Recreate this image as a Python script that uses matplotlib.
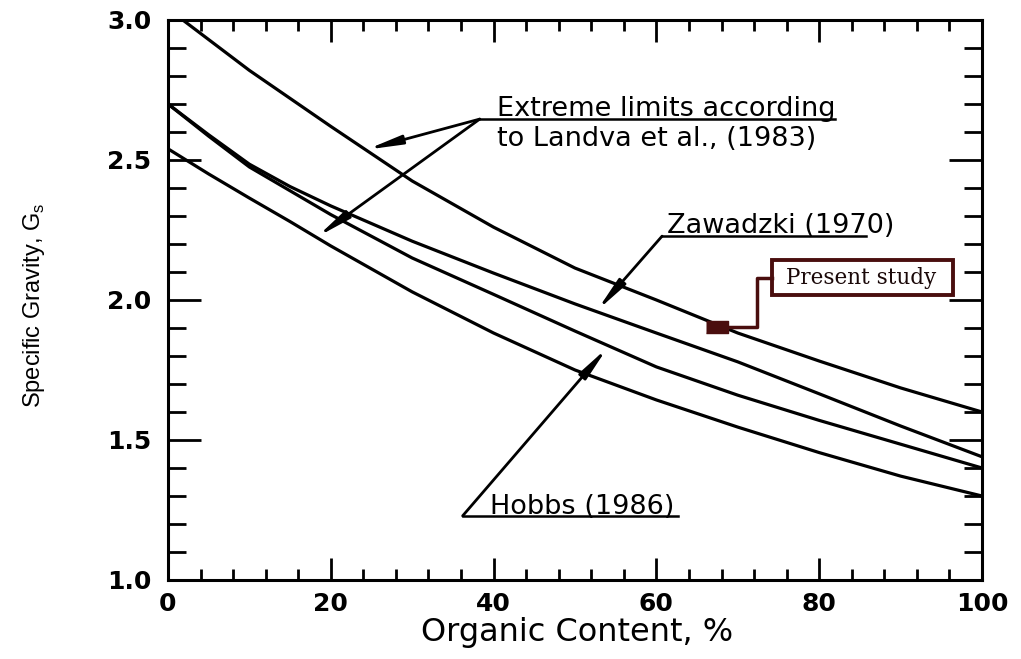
import matplotlib
matplotlib.use('Agg')
import matplotlib.pyplot as plt
from matplotlib.ticker import MultipleLocator, FormatStrFormatter
from matplotlib.patches import Rectangle

''' ______________________ DATA READ OFF THE CHART ___________________________'''
organic = [0, 5, 10, 15, 20, 30, 40, 50, 60, 70, 80, 90, 100]   # organic content, %
landvaUpper = [3.04, 2.93, 2.82, 2.72, 2.62, 2.425, 2.26, 2.114, 2.0, 1.882, 1.782, 1.686, 1.60]
zawadzki = [2.70, 2.59, 2.485, 2.405, 2.336, 2.21, 2.096, 1.986, 1.882, 1.779, 1.665, 1.55, 1.44]
hobbs = [2.70, 2.585, 2.475, 2.39, 2.305, 2.15, 2.02, 1.889, 1.761, 1.66, 1.57, 1.485, 1.40]
landvaLower = [2.54, 2.45, 2.364, 2.28, 2.193, 2.029, 1.882, 1.75, 1.643, 1.546, 1.455, 1.371, 1.30]

presentX = 67.5; presentY = 1.905   # present study point

xTicks = [0, 20, 40, 60, 80, 100]
yTicks = [1.0, 1.5, 2.0, 2.5, 3.0]

maroon = '#4a0e0e'

fig = plt.figure(figsize=(10.21, 6.59), dpi=100)
ax = fig.add_axes([0.1645, 0.1199, 0.7973, 0.8498])

#-----------------------------------------------------------------------------
#                                 AXES
#-----------------------------------------------------------------------------
ax.set_xlim(0, 100); ax.set_ylim(1.0, 3.0)
ax.set_xticks(xTicks); ax.set_yticks(yTicks)
ax.xaxis.set_minor_locator(MultipleLocator(4))
ax.yaxis.set_minor_locator(MultipleLocator(0.1))
ax.yaxis.set_major_formatter(FormatStrFormatter('%.1f'))
for s in ax.spines.values():
  s.set_linewidth(2.2)
ax.tick_params(which='both', direction='in', top=True, right=True, width=2.0, color='black')
ax.tick_params(axis='y', which='major', length=24, pad=12)
ax.tick_params(axis='y', which='minor', length=13)
ax.tick_params(axis='x', which='major', length=16, pad=9)
ax.tick_params(axis='x', which='minor', length=8)
for lab in ax.get_xticklabels() + ax.get_yticklabels():
  lab.set_family('DejaVu Sans'); lab.set_fontweight('bold'); lab.set_fontsize(18)

ax.set_xlabel('Organic Content, %', family='DejaVu Sans', fontsize=23)
ax.xaxis.set_label_coords(0.502, -0.066)
ax.set_ylabel('Specific Gravity, G$_\\mathregular{s}$', family='Liberation Sans', fontsize=17)
ax.yaxis.set_label_coords(-0.148, 0.49)

#-----------------------------------------------------------------------------
#                                 CURVES
#-----------------------------------------------------------------------------
for curve in [landvaUpper, zawadzki, hobbs, landvaLower]:
  ax.plot(organic, curve, color='black', lw=2.3, solid_capstyle='butt')

# present study marker + elbow connector + box
ax.plot([presentX], [presentY], marker=[(-1, -0.55), (1, -0.55), (1, 0.55), (-1, 0.55)],
        markersize=16, color=maroon, lw=0, zorder=5)
ax.plot([presentX, 72.4, 72.4, 74.2], [presentY, presentY, 2.079, 2.079], color=maroon, lw=2.5, zorder=4)
ax.add_patch(Rectangle((74.2, 2.018), 22.2, 0.125, fill=False, edgecolor=maroon, lw=2.8, zorder=4))
ax.text(85.2, 2.079, 'Present study', family='DejaVu Serif', fontsize=15.5, color='#1a0808',
        ha='center', va='center', zorder=6)

#-----------------------------------------------------------------------------
#                           LABELS AND LEADERS
#-----------------------------------------------------------------------------
arrowKw = dict(arrowstyle='-|>,head_length=1.0,head_width=0.13', lw=2.0, color='black',
               shrinkA=0, shrinkB=0, mutation_scale=20)

labelFont = dict(family='DejaVu Sans', fontsize=19.5, color='black')
t1 = ax.text(40.4, 2.656, 'Extreme limits according', va='baseline', ha='left', **labelFont)
ax.text(40.4, 2.55, 'to Landva et al., (1983)', va='baseline', ha='left', **labelFont)
ax.annotate('', xy=(24.4, 2.537), xytext=(38.3, 2.646), arrowprops=arrowKw)
ax.annotate('', xy=(18.3, 2.225), xytext=(38.3, 2.646), arrowprops=arrowKw)

t2 = ax.text(61.3, 2.24, 'Zawadzki (1970)', va='baseline', ha='left', **labelFont)
ax.annotate('', xy=(52.7, 1.962), xytext=(60.7, 2.228), arrowprops=arrowKw)

t3 = ax.text(39.5, 1.236, 'Hobbs (1986)', va='baseline', ha='left', **labelFont)
ax.annotate('', xy=(54.0, 1.83), xytext=(36.2, 1.229), arrowprops=arrowKw)

# underlines running on from the leader start to the end of the text
fig.canvas.draw()
inv = ax.transData.inverted()
for txt, x0, yLine, cut in [(t1, 38.3, 2.646, 0), (t2, 60.7, 2.228, 3.5), (t3, 36.2, 1.229, -0.5)]:
  bb = txt.get_window_extent()
  xEnd = inv.transform((bb.x1, bb.y0))[0] - cut
  ax.plot([x0, xEnd], [yLine, yLine], color='black', lw=1.8)

fig.savefig('out.png', dpi=100)
